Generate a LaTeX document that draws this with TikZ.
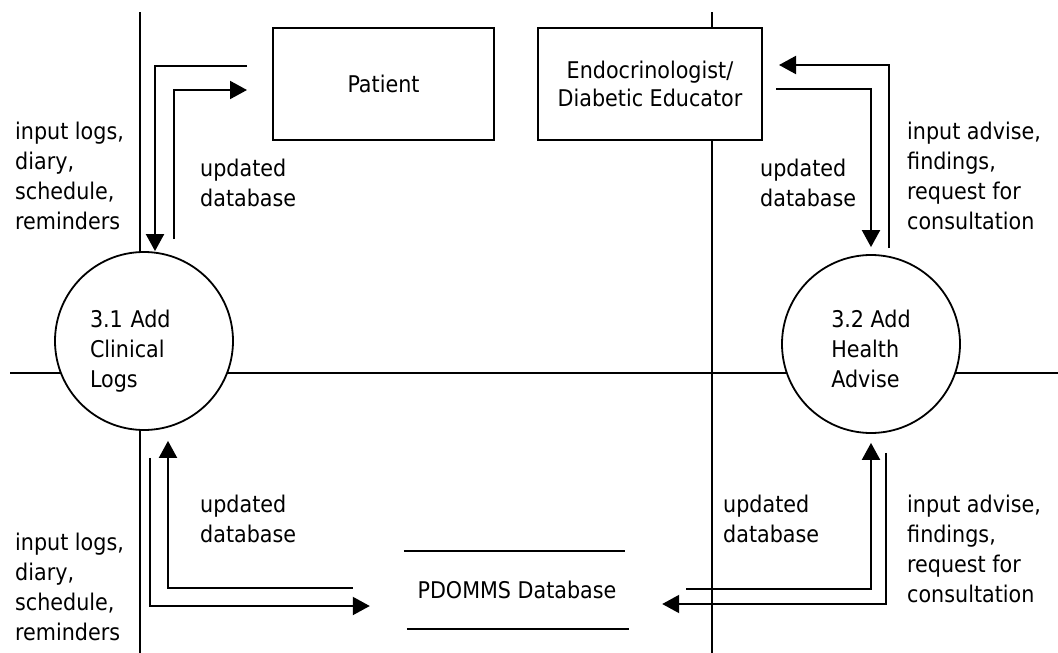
\documentclass[tikz,border=0pt]{standalone}
\usepackage{fontspec}
\setmainfont{DejaVu Sans Condensed}
\usetikzlibrary{arrows.meta}
\begin{document}
\begin{tikzpicture}[x=1pt,y=-1pt,
  every node/.style={font=\fontsize{23}{30}\selectfont},
  divider/.style={line width=2pt},
  entity/.style={draw,line width=2pt,fill=white,minimum width=221pt,minimum height=112pt,inner sep=0pt},
  process/.style={draw,circle,line width=1.8pt,fill=white,minimum size=178pt,inner sep=0pt},
  flowa/.style={line width=2pt,-{Triangle[length=17pt,width=18pt]}},
  dbline/.style={line width=2pt},
  lbl/.style={align=left,inner sep=0pt,anchor=west}]
\useasboundingbox (0,0) rectangle (1058,653);
% dividers
\draw[divider] (140,12) -- (140,653);
\draw[divider] (712,12) -- (712,653);
\draw[divider] (10,373) -- (1058,373);
% nodes
\node[entity] (patient) at (383.5,84) {Patient};
\node[entity,minimum width=224pt,align=center,font=\fontsize{23}{28}\selectfont] (endo) at (650,84) {Endocrinologist/\\Diabetic Educator};
\node[process,text width=108pt,align=left] (c1) at (144,341) {\rule{0pt}{37pt}3.1 Add\\Clinical\\Logs};
\node[process,align=left] (c2) at (871,344) {\rule{0pt}{27pt}3.2 Add\\Health\\Advise};
\node[minimum width=220pt,minimum height=78pt,inner sep=0pt] (db) at (517,590) {PDOMMS Database};
\draw[dbline] ([xshift=-3pt]db.north west) -- ([xshift=-2pt]db.north east);
\draw[dbline] (db.south west) -- ([xshift=2pt]db.south east);
% flows top left
\draw[flowa] ([xshift=-25pt,yshift=18pt]patient.west) -| ([xshift=11pt]c1.north);
\draw[flowa] ([xshift=30pt,yshift=12pt]c1.north) |- ([xshift=-25pt,yshift=-6pt]patient.west);
% flows top right
\draw[flowa] ([xshift=18pt,yshift=6pt]c2.north) |- ([xshift=16pt,yshift=19pt]endo.east);
\draw[flowa] ([xshift=13pt,yshift=-5pt]endo.east) -| ([yshift=7pt]c2.north);
% flows bottom left
\draw[flowa] ([xshift=-54pt,yshift=2pt]db.west) -| ([xshift=24pt,yshift=-10pt]c1.south);
\draw[flowa] ([xshift=6pt,yshift=-27pt]c1.south) |- ([xshift=-37pt,yshift=-16pt]db.west);
% flows bottom right
\draw[flowa] ([xshift=59pt,yshift=1pt]db.east) -| ([yshift=-9pt]c2.south);
\draw[flowa] ([xshift=15pt,yshift=-19pt]c2.south) |- ([xshift=35pt,yshift=-14pt]db.east);
% labels
\node[lbl] (l1) at (15,176) {input logs,\\diary,\\schedule,\\reminders};
\node[lbl] (l2) at (200,183) {updated\\database};
\node[lbl] (l3) at (760,183) {updated\\database};
\node[lbl] (l4) at (907,176) {input advise,\\findings,\\request for\\consultation};
\node[lbl] (l5) at (200,519) {updated\\database};
\node[lbl] (l6) at (15,587) {input logs,\\diary,\\schedule,\\reminders};
\node[lbl] (l7) at (723,519) {updated\\database};
\node[lbl] (l8) at (907,549) {input advise,\\findings,\\request for\\consultation};
\end{tikzpicture}
\end{document}
